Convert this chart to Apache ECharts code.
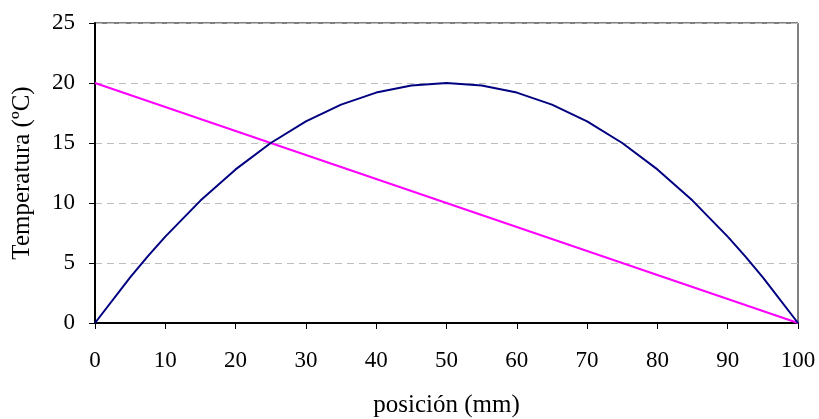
<!DOCTYPE html>
<html>
<head>
<meta charset="utf-8">
<script src="https://cdn.jsdelivr.net/npm/echarts@6/dist/echarts.min.js"></script>
<style>
  html, body { margin: 0; padding: 0; background: #fff; }
  #chart { width: 819px; height: 419px; }
</style>
</head>
<body>
<div id="chart"></div>
<script>
// posición (mm) of the measured points
const posicion = [0, 5, 7.5, 10, 15, 20, 25, 30, 35, 40, 45, 50, 55, 60, 65, 70, 75, 80, 85, 90, 92.5, 95, 100]
// curva azul
const tempCurva = [0, 3.8, 5.55, 7.2, 10.2, 12.8, 15, 16.8, 18.2, 19.2, 19.8, 20, 19.8, 19.2, 18.2, 16.8, 15, 12.8, 10.2, 7.2, 5.55, 3.8, 0]
// recta magenta
const posRecta = [0, 100]
const tempRecta = [20, 0]

const font = 'Liberation Serif'

const chart = echarts.init(document.getElementById('chart'))
chart.setOption({
  animation: false,
  grid: {
    left: 95, right: 21, top: 23, bottom: 96,
    outerBoundsMode: 'none',
    show: true,
    borderColor: '#000',
    borderWidth: 1
  },
  xAxis: {
    type: 'value',
    min: 0, max: 100, interval: 10,
    name: 'posición (mm)',
    nameLocation: 'middle',
    nameGap: 70,
    nameTextStyle: { fontFamily: font, fontSize: 25, color: '#000' },
    axisLine: { lineStyle: { color: '#000', width: 2 } },
    axisTick: { show: true, length: 6, lineStyle: { color: '#000' } },
    axisLabel: { fontFamily: font, fontSize: 23, color: '#000', margin: 26 },
    splitLine: { show: false }
  },
  yAxis: {
    type: 'value',
    min: 0, max: 25, interval: 5,
    name: 'Temperatura (ºC)',
    nameLocation: 'middle',
    nameGap: 60,
    nameRotate: 90,
    nameTextStyle: { fontFamily: font, fontSize: 25, color: '#000' },
    axisLine: { lineStyle: { color: '#000', width: 2 } },
    axisTick: { show: true, length: 6, lineStyle: { color: '#000' } },
    axisLabel: { fontFamily: font, fontSize: 23, color: '#000', margin: 20 },
    splitLine: { show: true, lineStyle: { color: '#bdbdbd', type: [7, 5], width: 1 } }
  },
  series: [{
    type: 'line',
    data: posRecta.map((x, i) => [x, tempRecta[i]]),
    symbol: 'none',
    lineStyle: { color: '#ff00ff', width: 2 },
    z: 3
  }, {
    type: 'line',
    data: posicion.map((x, i) => [x, tempCurva[i]]),
    symbol: 'none',
    lineStyle: { color: '#000080', width: 2 },
    z: 4
  }]
})
</script>
</body>
</html>
